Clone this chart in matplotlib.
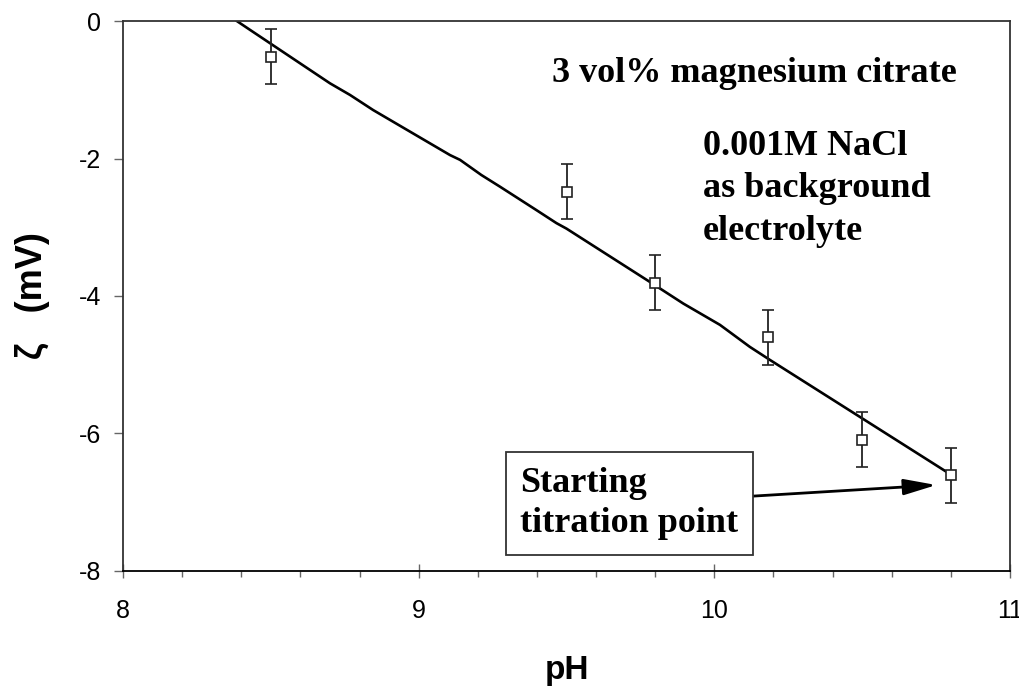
import numpy as np
import matplotlib.pyplot as plt
from matplotlib.ticker import MultipleLocator

plt.rcParams['axes.unicode_minus'] = False

# measured zeta potential
ph = [8.5, 9.5, 9.8, 10.18, 10.5, 10.8]
zeta = [-0.52, -2.48, -3.81, -4.60, -6.09, -6.61]
zeta_err = [0.4, 0.4, 0.4, 0.4, 0.4, 0.4]

# fitted trend line
fit_ph = [8.385, 8.43, 8.70, 8.768, 8.846, 9.106, 9.14, 9.212, 9.275, 9.398,
          9.466, 9.50, 9.78, 9.895, 10.019, 10.12, 10.188, 10.5, 10.786, 10.805]
fit_zeta = [0.0, -0.13, -0.906, -1.076, -1.295, -1.95, -2.02, -2.24, -2.41, -2.75,
            -2.94, -3.02, -3.79, -4.11, -4.42, -4.74, -4.93, -5.78, -6.56, -6.61]

serif = 'Liberation Serif'
sans = 'Liberation Sans'

fig = plt.figure(figsize=(10.2, 6.87), dpi=100)
ax = fig.add_axes([0.1206, 0.1689, 0.8696, 0.8005])

ax.plot(fit_ph, fit_zeta, color='black', lw=1.9, zorder=2)
ax.errorbar(ph, zeta, yerr=zeta_err, fmt='s', mfc='white', mec='#222222',
            mew=1.2, ms=6.5, ecolor='#222222', elinewidth=1.3, capsize=4,
            capthick=1.3, zorder=3)

ax.set_xlim(8, 11)
ax.set_ylim(-8, 0)
ax.xaxis.set_major_locator(MultipleLocator(1))
ax.xaxis.set_minor_locator(MultipleLocator(0.2))
ax.yaxis.set_major_locator(MultipleLocator(2))

for s in ax.spines.values():
    s.set_linewidth(1.3)
    s.set_color('#333333')
ax.spines['bottom'].set_color('black')

ax.tick_params(axis='x', which='major', direction='inout', length=10,
               width=1, color='#666666', pad=15)
ax.tick_params(axis='x', which='minor', direction='out', length=4.5,
               width=1, color='#666666')
ax.tick_params(axis='y', direction='out', length=6.5, width=1,
               color='#666666', pad=9)
for lab in ax.get_xticklabels() + ax.get_yticklabels():
    lab.set_fontfamily(sans)
    lab.set_fontsize(18)

ax.set_xlabel('pH', fontfamily=sans, fontsize=24, fontweight='bold')
ax.set_ylabel('ζ   (mV)', fontfamily=sans, fontsize=26, fontweight='bold')
ax.xaxis.set_label_coords(0.5, -0.153)
ax.yaxis.set_label_coords(-0.082, 0.5)

ax.text(9.45, -0.883, '3 vol% magnesium citrate', fontfamily=serif,
        fontsize=26, fontweight='bold', va='baseline')
ax.text(9.96, -1.58, '0.001M NaCl\nas background\nelectrolyte',
        fontfamily=serif, fontsize=26, fontweight='bold', va='top',
        linespacing=1.38)

ax.annotate('Starting\ntitration point', xy=(10.751, -6.75),
            xytext=(9.343, -7.02), fontfamily=serif, fontsize=26,
            fontweight='bold', va='center', ha='left', linespacing=1.3,
            bbox=dict(boxstyle='square,pad=0.4', fc='white', ec='#333333',
                      lw=1.3),
            arrowprops=dict(arrowstyle='-|>,head_length=0.9,head_width=0.22',
                            color='black', lw=2, shrinkA=0, shrinkB=0,
                            mutation_scale=22))

fig.savefig('out.png', dpi=100)
